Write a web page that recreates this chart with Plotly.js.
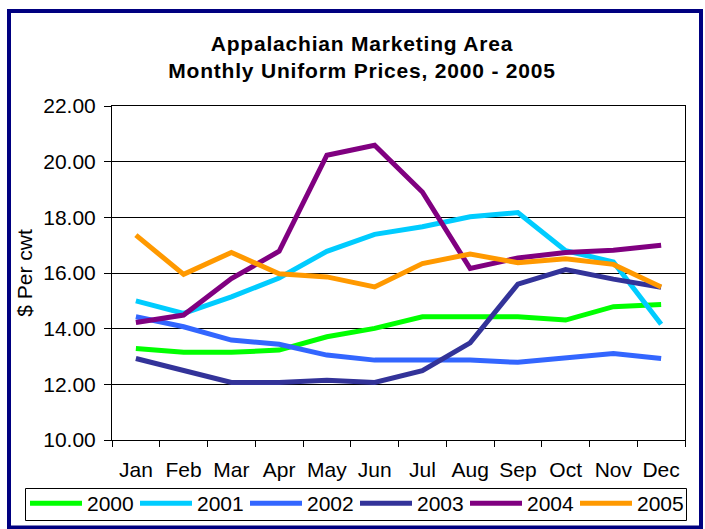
<!DOCTYPE html>
<html>
<head>
<meta charset="utf-8">
<script src="https://cdn.plot.ly/plotly-3.0.1.min.js"></script>
<style>
html,body{margin:0;padding:0;background:#fff;}
#chart{width:705px;height:529px;}
.gtitle{letter-spacing:0.8px;}
</style>
</head>
<body>
<div id="chart"></div>
<script>
const months = ["Jan","Feb","Mar","Apr","May","Jun","Jul","Aug","Sep","Oct","Nov","Dec"];
const years = ["2000","2001","2002","2003","2004","2005"];
const y2000 = [13.29,13.15,13.15,13.23,13.71,14.01,14.43,14.43,14.43,14.31,14.79,14.87];
const y2001 = [15.00,14.55,15.14,15.82,16.78,17.39,17.66,18.02,18.17,16.80,16.40,14.16];
const y2002 = [14.43,14.07,13.59,13.44,13.05,12.87,12.87,12.87,12.79,12.97,13.11,12.93];
const y2003 = [12.93,12.51,12.07,12.07,12.15,12.07,12.49,13.49,15.60,16.12,15.78,15.49];
const y2004 = [14.22,14.49,15.80,16.78,20.23,20.59,18.91,16.16,16.54,16.74,16.82,17.00];
const y2005 = [17.36,15.95,16.74,15.97,15.86,15.50,16.34,16.68,16.37,16.51,16.31,15.50];
const seriesValues = [y2000,y2001,y2002,y2003,y2004,y2005];
const colors = ["#00FF00","#00CCFF","#3366FF","#333399","#800080","#FF9900"];

const FONT = "Liberation Sans, Arial, sans-serif";

const traces = years.map((yr,i)=>({
  type:"scatter", mode:"lines", name:yr,
  x:months, y:seriesValues[i],
  line:{color:colors[i], width:5}
}));

// plot area pixels: x 112..685, y 106..440
const L=112, R=20, T=106, B=89, W=705, H=529;
const pw=W-L-R, ph=H-T-B;
const px=(v)=>(v-L)/pw;
const py=(v)=>(H-B-v)/ph;

const layout = {
  width:W, height:H,
  margin:{l:L, r:R, t:T, b:B, pad:0, autoexpand:false},
  paper_bgcolor:"#ffffff", plot_bgcolor:"#ffffff",
  font:{family:FONT, color:"#000", size:21},
  showlegend:true,
  title:{
    text:"<b>Appalachian Marketing Area<br>Monthly Uniform Prices, 2000 - 2005</b>",
    font:{family:FONT, size:21, color:"#000"},
    x:362/W, xref:"container", xanchor:"center",
    y:1-51/H, yref:"container", yanchor:"top"
  },
  xaxis:{
    type:"category", range:[-0.5,11.5], automargin:false,
    tickson:"boundaries", ticks:"outside", ticklen:6, tickcolor:"#000", tickwidth:1,
    showline:true, linecolor:"#000", linewidth:1, mirror:true,
    showgrid:false, zeroline:false, tickangle:0,
    tickfont:{family:FONT, size:21, color:"#000"},
    ticklabelstandoff:11
  },
  yaxis:{
    range:[10,22], dtick:2, tick0:10, tickformat:".2f", automargin:false,
    ticks:"outside", ticklen:7, tickcolor:"#000", tickwidth:1,
    showline:true, linecolor:"#000", linewidth:1, mirror:true,
    showgrid:true, gridcolor:"#000", gridwidth:1, zeroline:false,
    tickfont:{family:FONT, size:21, color:"#000"},
    ticklabelstandoff:4,
    title:{text:"$ Per cwt", font:{family:FONT, size:21, color:"#000"}, standoff:4}
  },
  legend:{
    orientation:"h", x:px(25), xanchor:"left", y:py(483), yanchor:"top",
    borderwidth:0, bgcolor:"rgba(0,0,0,0)",
    font:{family:FONT, size:21, color:"#000"},
    itemwidth:52, entrywidth:43, entrywidthmode:"pixels",
    tracegroupgap:0
  },
  shapes:[{
    type:"rect", xref:"paper", yref:"paper",
    x0:px(25.5), x1:px(686.5), y0:py(520.5), y1:py(488.5),
    line:{color:"#000", width:1}, fillcolor:"rgba(0,0,0,0)", layer:"below"
  },{
    type:"rect", xref:"paper", yref:"paper",
    x0:px(9), x1:px(701), y0:py(527.5), y1:py(11),
    line:{color:"#000080", width:4}, fillcolor:"rgba(0,0,0,0)", layer:"above"
  }]
};

Plotly.newPlot("chart", traces, layout, {displayModeBar:false, staticPlot:true});
</script>
</body>
</html>
